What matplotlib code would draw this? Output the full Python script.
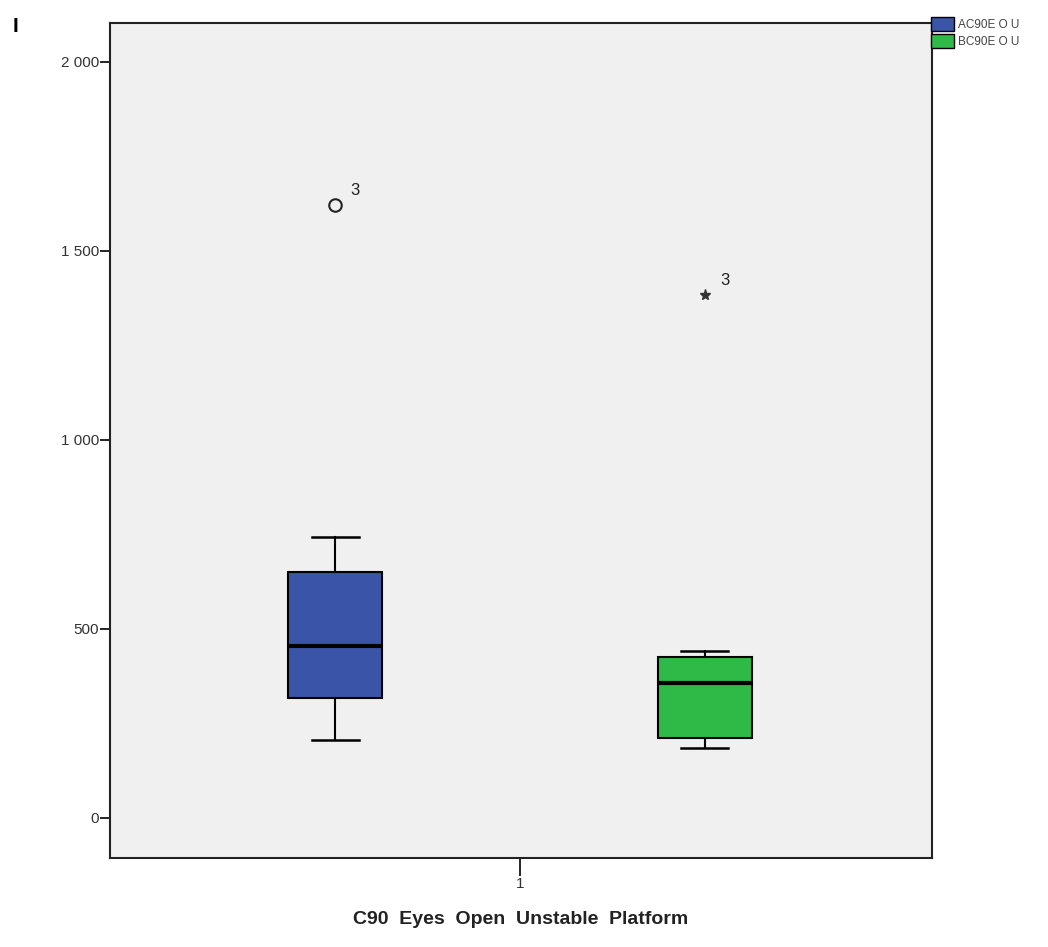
import matplotlib
matplotlib.use("Agg")
import matplotlib.pyplot as plt
from matplotlib.patches import Patch
from matplotlib.ticker import FuncFormatter

plt.rcParams['font.family'] = ['Liberation Sans', 'DejaVu Sans']

series = ["AC90E O U", "BC90E O U"]
colors = ["#3a54a8", "#2fba47"]
whislo = [206, 185]
q1 = [317, 212]
med = [455, 357]
q3 = [651, 426]
whishi = [743, 442]
outliers = [[1622], [1384]]
outlier_labels = ["3", "3"]
outlier_markers = ["o", "*"]
xtick_labels = ["1"]
title = "C90  Eyes  Open  Unstable  Platform"

fig = plt.figure(figsize=(10.48, 9.47), dpi=100)
ax = fig.add_axes([0.105, 0.094, 0.784, 0.8817])
ax.set_facecolor("#f0f0f0")

positions = [0.274, 0.724]
stats = []
for i in range(2):
    stats.append(dict(whislo=whislo[i], q1=q1[i], med=med[i], q3=q3[i],
                      whishi=whishi[i], fliers=[]))
bp = ax.bxp(stats, positions=positions, widths=0.114, patch_artist=True,
            showfliers=False, manage_ticks=False,
            boxprops=dict(linewidth=1.5, edgecolor="black"),
            medianprops=dict(color="black", linewidth=3),
            whiskerprops=dict(color="black", linewidth=1.5),
            capprops=dict(color="black", linewidth=1.8),
            capwidths=0.057)
for patch, c in zip(bp["boxes"], colors):
    patch.set_facecolor(c)

for i in range(2):
    for v in outliers[i]:
        if outlier_markers[i] == "o":
            ax.plot(positions[i], v, marker="o", markerfacecolor="none",
                    markeredgecolor="#222222", markersize=9, markeredgewidth=1.5)
        else:
            ax.plot(positions[i], v, marker="*", color="#333333", markersize=8)
        ax.annotate(outlier_labels[i], (positions[i], v), xytext=(11, 7),
                    textcoords="offset points", fontsize=12, color="#222222")

ax.set_xlim(0, 1)
ax.set_ylim(-106, 2103)
ax.set_yticks([0, 500, 1000, 1500, 2000])
ax.yaxis.set_major_formatter(FuncFormatter(lambda v, p: f"{int(v):,}".replace(",", " ")))
ax.set_xticks([0.499])
ax.set_xticklabels(xtick_labels)
ax.tick_params(axis="y", length=7, width=1.2, labelsize=11, pad=1, labelcolor="#333333")
ax.tick_params(axis="x", length=13, width=1.2, labelsize=11, pad=1, labelcolor="#333333")
for s in ax.spines.values():
    s.set_linewidth(1.5)
    s.set_color("#222222")

ax.set_xlabel(title, fontsize=14, fontweight="bold", labelpad=14, color="#222222")

handles = [Patch(facecolor=c, edgecolor="black", label=l) for c, l in zip(colors, series)]
fig.legend(handles=handles, loc="upper left", bbox_to_anchor=(0.888, 0.982),
           frameon=False, fontsize=8.5, handlelength=2.0, handleheight=1.5,
           handletextpad=0.3, labelspacing=0.2, borderaxespad=0, borderpad=0,
           labelcolor="#444444")

fig.text(0.012, 0.966, "I", fontsize=15, fontweight="bold")

fig.savefig("out.png", dpi=100, facecolor="white")
